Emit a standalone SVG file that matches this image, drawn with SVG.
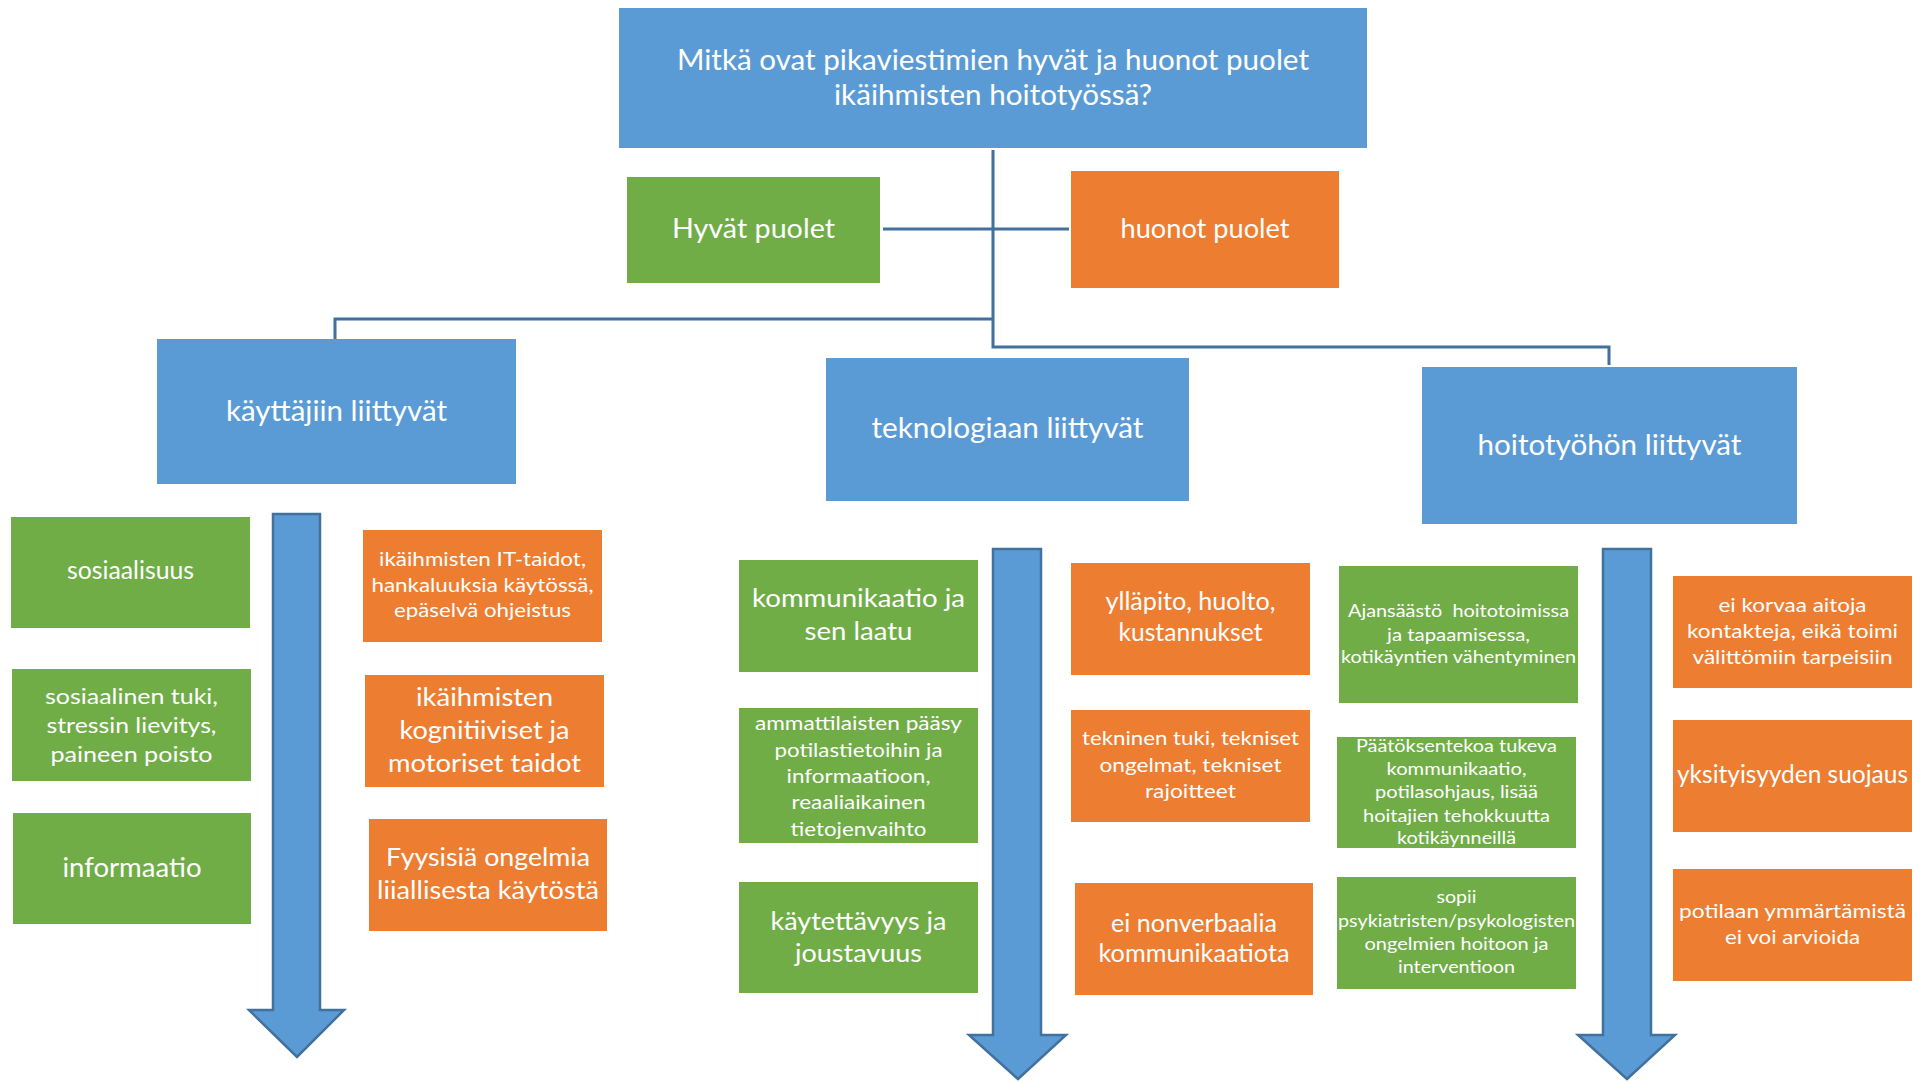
<svg xmlns="http://www.w3.org/2000/svg" width="1926" height="1082" viewBox="0 0 1926 1082">
<style>
.b{fill:#5B9BD5}
.g{fill:#70AD47}
.o{fill:#ED7D31}
text{font-family:Lato,"Open Sans","Liberation Sans",sans-serif;fill:#ffffff;text-anchor:middle}
.con{fill:none;stroke:#41719C;stroke-width:3}
.arr{fill:#5B9BD5;stroke:#41719C;stroke-width:2.5}
.s29{font-size:29px}.s28{font-size:28.5px}.s27{font-size:27px}.s25{font-size:25px}.s24{font-size:24.5px}.s22{font-size:22px}.s20{font-size:20px}.s19{font-size:19.5px}.s18{font-size:18px}
</style>
<rect x="0" y="0" width="1926" height="1082" fill="#ffffff"/>

<g id="connectors">
<path class="con" d="M993,150 V347 H1609 V365"/>
<path class="con" d="M993,319 H335 V339"/>
<path class="con" d="M883,229 H1069"/>
</g>

<g id="arrows">
<polygon class="arr" points="273,514 320,514 320,1010 344,1010 297,1057 249,1010 273,1010"/>
<polygon class="arr" points="993,549 1041,549 1041,1035 1066,1035 1018,1079 969,1035 993,1035"/>
<polygon class="arr" points="1603,549 1651,549 1651,1035 1675,1035 1627,1079 1578,1035 1603,1035"/>
</g>

<g id="title">
<rect class="b" x="619" y="8" width="748" height="140"/>
<text class="s29" x="993" y="70" textLength="632" lengthAdjust="spacingAndGlyphs">Mitkä ovat pikaviestimien hyvät ja huonot puolet</text>
<text class="s29" x="993" y="105" textLength="318" lengthAdjust="spacingAndGlyphs">ikäihmisten hoitotyössä?</text>
</g>

<g id="hyvat">
<rect class="g" x="627" y="177" width="253" height="106"/>
<text class="s27" x="753.5" y="238" textLength="163" lengthAdjust="spacingAndGlyphs">Hyvät puolet</text>
</g>

<g id="huonot">
<rect class="o" x="1071" y="171" width="268" height="117"/>
<text class="s27" x="1205" y="238" textLength="169" lengthAdjust="spacingAndGlyphs">huonot puolet</text>
</g>

<g id="kayttajiin">
<rect class="b" x="157" y="339" width="359" height="145"/>
<text class="s28" x="336.5" y="421" textLength="221" lengthAdjust="spacingAndGlyphs">käyttäjiin liittyvät</text>
</g>

<g id="teknologiaan">
<rect class="b" x="826" y="358" width="363" height="143"/>
<text class="s28" x="1007.5" y="438" textLength="272" lengthAdjust="spacingAndGlyphs">teknologiaan liittyvät</text>
</g>

<g id="hoitotyohon">
<rect class="b" x="1422" y="367" width="375" height="157"/>
<text class="s28" x="1609.5" y="455" textLength="264" lengthAdjust="spacingAndGlyphs">hoitotyöhön liittyvät</text>
</g>

<g id="sosiaalisuus">
<rect class="g" x="11" y="517" width="239" height="111"/>
<text class="s24" x="130.5" y="579" textLength="127" lengthAdjust="spacingAndGlyphs">sosiaalisuus</text>
</g>

<g id="sosiaalinen-tuki">
<rect class="g" x="12" y="669" width="239" height="112"/>
<text class="s22" x="131.5" y="704" textLength="173" lengthAdjust="spacingAndGlyphs">sosiaalinen tuki,</text>
<text class="s22" x="131.5" y="733" textLength="170" lengthAdjust="spacingAndGlyphs">stressin lievitys,</text>
<text class="s22" x="131.5" y="762" textLength="162" lengthAdjust="spacingAndGlyphs">paineen poisto</text>
</g>

<g id="informaatio">
<rect class="g" x="13" y="813" width="238" height="111"/>
<text class="s27" x="132" y="877" textLength="139" lengthAdjust="spacingAndGlyphs">informaatio</text>
</g>

<g id="it-taidot">
<rect class="o" x="363" y="530" width="239" height="112"/>
<text class="s19" x="482.5" y="566" textLength="207" lengthAdjust="spacingAndGlyphs">ikäihmisten IT-taidot,</text>
<text class="s19" x="482.5" y="592" textLength="222" lengthAdjust="spacingAndGlyphs">hankaluuksia käytössä,</text>
<text class="s19" x="482.5" y="617" textLength="177" lengthAdjust="spacingAndGlyphs">epäselvä ohjeistus</text>
</g>

<g id="kognitiiviset">
<rect class="o" x="365" y="675" width="239" height="112"/>
<text class="s25" x="484.5" y="706" textLength="137" lengthAdjust="spacingAndGlyphs">ikäihmisten</text>
<text class="s25" x="484.5" y="739" textLength="170" lengthAdjust="spacingAndGlyphs">kognitiiviset ja</text>
<text class="s25" x="484.5" y="772" textLength="193" lengthAdjust="spacingAndGlyphs">motoriset taidot</text>
</g>

<g id="fyysisia">
<rect class="o" x="369" y="819" width="238" height="112"/>
<text class="s25" x="488" y="866" textLength="204" lengthAdjust="spacingAndGlyphs">Fyysisiä ongelmia</text>
<text class="s25" x="488" y="899" textLength="222" lengthAdjust="spacingAndGlyphs">liiallisesta käytöstä</text>
</g>

<g id="kommunikaatio">
<rect class="g" x="739" y="560" width="239" height="112"/>
<text class="s25" x="858.5" y="607" textLength="213" lengthAdjust="spacingAndGlyphs">kommunikaatio ja</text>
<text class="s25" x="858.5" y="640" textLength="108" lengthAdjust="spacingAndGlyphs">sen laatu</text>
</g>

<g id="ammattilaisten">
<rect class="g" x="739" y="708" width="239" height="135"/>
<text class="s20" x="858.5" y="730" textLength="207" lengthAdjust="spacingAndGlyphs">ammattilaisten pääsy</text>
<text class="s20" x="858.5" y="757" textLength="168" lengthAdjust="spacingAndGlyphs">potilastietoihin ja</text>
<text class="s20" x="858.5" y="783" textLength="144" lengthAdjust="spacingAndGlyphs">informaatioon,</text>
<text class="s20" x="858.5" y="809" textLength="134" lengthAdjust="spacingAndGlyphs">reaaliaikainen</text>
<text class="s20" x="858.5" y="836" textLength="136" lengthAdjust="spacingAndGlyphs">tietojenvaihto</text>
</g>

<g id="kaytettavyys">
<rect class="g" x="739" y="882" width="239" height="111"/>
<text class="s25" x="858.5" y="930" textLength="176" lengthAdjust="spacingAndGlyphs">käytettävyys ja</text>
<text class="s25" x="858.5" y="962" textLength="127" lengthAdjust="spacingAndGlyphs">joustavuus</text>
</g>

<g id="yllapito">
<rect class="o" x="1071" y="563" width="239" height="112"/>
<text class="s25" x="1190.5" y="610" textLength="170" lengthAdjust="spacingAndGlyphs">ylläpito, huolto,</text>
<text class="s25" x="1190.5" y="641" textLength="144" lengthAdjust="spacingAndGlyphs">kustannukset</text>
</g>

<g id="tekninen">
<rect class="o" x="1071" y="710" width="239" height="112"/>
<text class="s20" x="1190.5" y="745" textLength="217" lengthAdjust="spacingAndGlyphs">tekninen tuki, tekniset</text>
<text class="s20" x="1190.5" y="772" textLength="182" lengthAdjust="spacingAndGlyphs">ongelmat, tekniset</text>
<text class="s20" x="1190.5" y="798" textLength="91" lengthAdjust="spacingAndGlyphs">rajoitteet</text>
</g>

<g id="nonverbaalia">
<rect class="o" x="1075" y="883" width="238" height="112"/>
<text class="s25" x="1194" y="932" textLength="166" lengthAdjust="spacingAndGlyphs">ei nonverbaalia</text>
<text class="s25" x="1194" y="962" textLength="191" lengthAdjust="spacingAndGlyphs">kommunikaatiota</text>
</g>

<g id="ajansaasto">
<rect class="g" x="1339" y="566" width="239" height="137"/>
<text class="s18" x="1458.5" y="617" textLength="221" lengthAdjust="spacingAndGlyphs" style="white-space:pre">Ajansäästö  hoitotoimissa</text>
<text class="s18" x="1458.5" y="641" textLength="143" lengthAdjust="spacingAndGlyphs">ja tapaamisessa,</text>
<text class="s18" x="1458.5" y="663" textLength="235" lengthAdjust="spacingAndGlyphs">kotikäyntien vähentyminen</text>
</g>

<g id="paatoksenteko">
<rect class="g" x="1337" y="737" width="239" height="111"/>
<text class="s18" x="1456.5" y="752" textLength="201" lengthAdjust="spacingAndGlyphs">Päätöksentekoa tukeva</text>
<text class="s18" x="1456.5" y="775" textLength="140" lengthAdjust="spacingAndGlyphs">kommunikaatio,</text>
<text class="s18" x="1456.5" y="798" textLength="163" lengthAdjust="spacingAndGlyphs">potilasohjaus, lisää</text>
<text class="s18" x="1456.5" y="822" textLength="187" lengthAdjust="spacingAndGlyphs">hoitajien tehokkuutta</text>
<text class="s18" x="1456.5" y="844" textLength="119" lengthAdjust="spacingAndGlyphs">kotikäynneillä</text>
</g>

<g id="sopii">
<rect class="g" x="1337" y="877" width="239" height="112"/>
<text class="s18" x="1456.5" y="903" textLength="40" lengthAdjust="spacingAndGlyphs">sopii</text>
<text class="s18" x="1456.5" y="927" textLength="237" lengthAdjust="spacingAndGlyphs">psykiatristen/psykologisten</text>
<text class="s18" x="1456.5" y="950" textLength="184" lengthAdjust="spacingAndGlyphs">ongelmien hoitoon ja</text>
<text class="s18" x="1456.5" y="973" textLength="117" lengthAdjust="spacingAndGlyphs">interventioon</text>
</g>

<g id="ei-korvaa">
<rect class="o" x="1673" y="576" width="239" height="112"/>
<text class="s20" x="1792.5" y="612" textLength="148" lengthAdjust="spacingAndGlyphs">ei korvaa aitoja</text>
<text class="s20" x="1792.5" y="638" textLength="211" lengthAdjust="spacingAndGlyphs">kontakteja, eikä toimi</text>
<text class="s20" x="1792.5" y="664" textLength="200" lengthAdjust="spacingAndGlyphs">välittömiin tarpeisiin</text>
</g>

<g id="yksityisyys">
<rect class="o" x="1673" y="720" width="239" height="112"/>
<text class="s25" x="1792.5" y="783" textLength="231" lengthAdjust="spacingAndGlyphs">yksityisyyden suojaus</text>
</g>

<g id="potilaan">
<rect class="o" x="1673" y="869" width="239" height="112"/>
<text class="s20" x="1792.5" y="918" textLength="227" lengthAdjust="spacingAndGlyphs">potilaan ymmärtämistä</text>
<text class="s20" x="1792.5" y="944" textLength="135" lengthAdjust="spacingAndGlyphs">ei voi arvioida</text>
</g>
</svg>
